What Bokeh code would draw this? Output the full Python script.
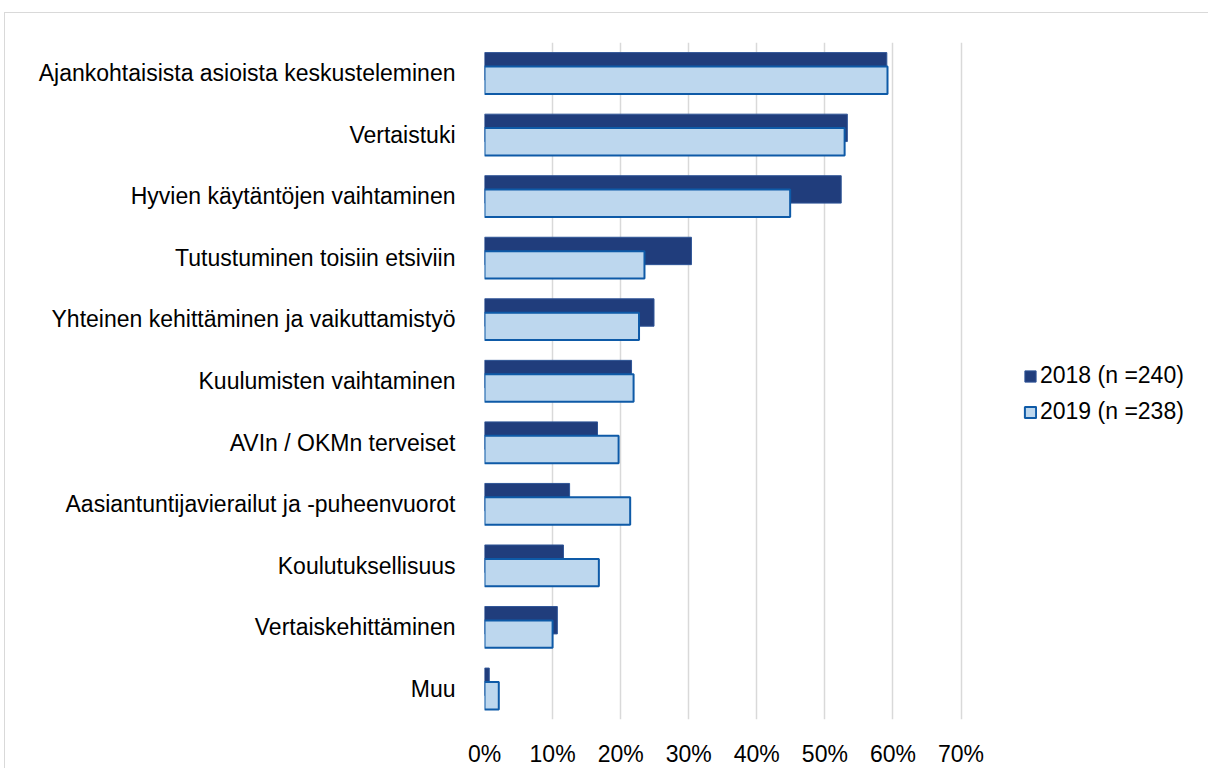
from bokeh.plotting import figure
from bokeh.models import (FactorRange, Range1d, FixedTicker, PrintfTickFormatter, Legend,
                          LegendItem, ColumnDataSource)
from bokeh.transform import dodge
from bokeh.embed import file_html
from bokeh.resources import INLINE

categories = [
    "Ajankohtaisista asioista keskusteleminen",
    "Vertaistuki",
    "Hyvien käytäntöjen vaihtaminen",
    "Tutustuminen toisiin etsiviin",
    "Yhteinen kehittäminen ja vaikuttamistyö",
    "Kuulumisten vaihtaminen",
    "AVIn / OKMn terveiset",
    "Aasiantuntijavierailut ja -puheenvuorot",
    "Koulutuksellisuus",
    "Vertaiskehittäminen",
    "Muu",
]
values_2018 = [59.1, 53.3, 52.4, 30.4, 24.9, 21.6, 16.6, 12.5, 11.6, 10.7, 0.7]
values_2019 = [59.2, 52.9, 44.9, 23.5, 22.7, 21.9, 19.7, 21.4, 16.8, 10.0, 2.1]
series_names = ["2018 (n =240)", "2019 (n =238)"]
x_ticks = [0, 10, 20, 30, 40, 50, 60, 70]

FONT = "Liberation Sans"

src = ColumnDataSource(dict(cat=categories, v18=values_2018, v19=values_2019))

p = figure(
    width=1204, height=756,
    y_range=FactorRange(*list(reversed(categories))),
    x_range=Range1d(0, 106.5),
    output_backend="svg", toolbar_location=None,
    min_border_left=479, min_border_right=0,
    min_border_top=29, min_border_bottom=49,
)
p.margin = (12, 0, 0, 4)
p.styles = {"border-top": "1px solid #d9d9d9", "border-left": "1px solid #d9d9d9"}

r18 = p.hbar(y=dodge("cat", 0.113, range=p.y_range), right="v18", left=0, height=0.445,
             source=src, fill_color="#203D7C", line_color="#2F5597", line_width=1)
r19 = p.hbar(y=dodge("cat", -0.113, range=p.y_range), right="v19", left=0, height=0.445,
             source=src, fill_color="#BDD7EE", line_color="#0E5AA7", line_width=2)

p.outline_line_color = None
p.ygrid.grid_line_color = None
p.xgrid.grid_line_color = "#D9D9D9"
p.xgrid.grid_line_width = 1.5

p.xaxis.ticker = FixedTicker(ticks=x_ticks)
p.xaxis.formatter = PrintfTickFormatter(format="%d%%")
p.xaxis.axis_line_color = None
p.xaxis.major_tick_line_color = None
p.xaxis.minor_tick_line_color = None
p.xaxis.major_label_standoff = 15
p.xaxis.major_label_text_font = FONT
p.xaxis.major_label_text_font_size = "23px"
p.xaxis.major_label_text_color = "#000000"

p.yaxis.axis_line_color = None
p.yaxis.major_tick_line_color = None
p.yaxis.minor_tick_line_color = None
p.yaxis.major_label_standoff = 23
p.yaxis.major_label_text_font = FONT
p.yaxis.major_label_text_font_size = "23px"
p.yaxis.major_label_text_color = "#000000"

legend = Legend(
    items=[LegendItem(label=series_names[0], renderers=[r18]),
           LegendItem(label=series_names[1], renderers=[r19])],
    location=(539, 294),
    glyph_width=14, glyph_height=14, label_height=11,
    label_standoff=3, spacing=9,
    label_text_font=FONT, label_text_font_size="23px", label_text_color="#000000",
    border_line_color=None, background_fill_alpha=0,
    padding=0, margin=0,
)
p.add_layout(legend, "center")

open("out.html", "w").write(file_html(p, INLINE))
